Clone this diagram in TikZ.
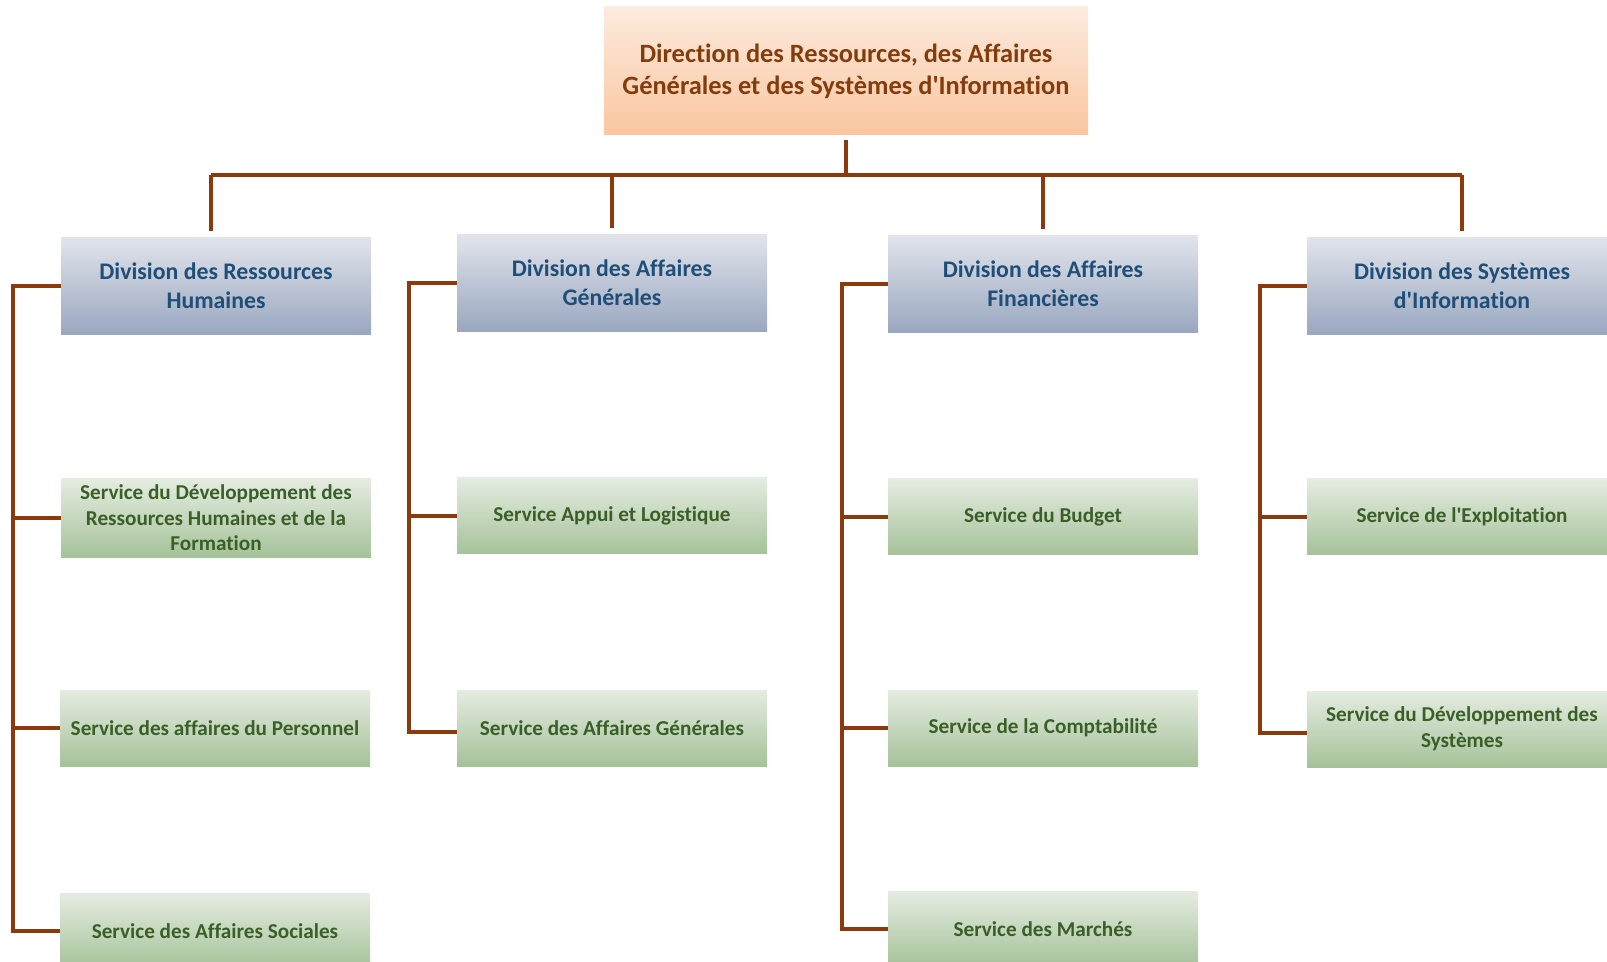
\documentclass[tikz,border=0pt]{standalone}
\usepackage{fontspec}
\setmainfont{Carlito}[Ligatures=NoCommon]
\definecolor{linkbrown}{HTML}{8B3A0E}
\definecolor{dirtop}{HTML}{FDEBDE}
\definecolor{dirbot}{HTML}{FAC6A0}
\definecolor{dirtext}{HTML}{843C0C}
\definecolor{divtop}{HTML}{E1E4EB}
\definecolor{divbot}{HTML}{99A7BF}
\definecolor{divtext}{HTML}{1F4E79}
\definecolor{srvtop}{HTML}{E5ECE1}
\definecolor{srvbot}{HTML}{A5C299}
\definecolor{srvtext}{HTML}{3A5F27}
\begin{document}
\begin{tikzpicture}[x=0.5pt, y=-0.5pt,
    link/.style={draw=linkbrown, line width=2pt},
    dirbox/.style={top color=dirtop, bottom color=dirbot, minimum width=242pt, minimum height=64pt,
        align=center, text=dirtext, font=\bfseries\fontsize{13.2}{16}\selectfont},
    divbox/.style={top color=divtop, bottom color=divbot, minimum width=155pt, minimum height=48.5pt,
        align=center, text=divtext, font=\bfseries\fontsize{11.9}{14.3}\selectfont},
    srvbox/.style={top color=srvtop, bottom color=srvbot, minimum width=155pt, minimum height=38pt,
        align=center, text=srvtext, font=\bfseries\fontsize{10.6}{12.8}\selectfont}]
    \useasboundingbox (0,0) rectangle (1607,962);
    \clip (0,0) rectangle (1607,962);

    % Direction
    \node[dirbox] (dir) at (846,71) {Direction des Ressources, des Affaires\\Générales et des Systèmes d\textquotesingle Information};

    % Divisions
    \node[divbox] (div1) at (216,286) {Division des Ressources\\Humaines};
    \node[divbox] (div2) at (612,283) {Division des Affaires\\Générales};
    \node[divbox] (div3) at (1043,284) {Division des Affaires\\Financières};
    \node[divbox] (div4) at (1462,286) {Division des Systèmes\\d\textquotesingle Information};

    % Services
    \node[srvbox] (srv11) at (216,518) {Service du Développement des\\Ressources Humaines et de la\\Formation};
    \node[srvbox] (srv12) at (215,728) {Service des affaires du Personnel};
    \node[srvbox] (srv13) at (215,931) {Service des Affaires Sociales};
    \node[srvbox] (srv21) at (612,516) {Service Appui et Logistique};
    \node[srvbox] (srv22) at (612,728) {Service des Affaires Générales};
    \node[srvbox] (srv31) at (1043,517) {Service du Budget};
    \node[srvbox] (srv32) at (1043,728) {Service de la Comptabilité};
    \node[srvbox] (srv33) at (1043,929) {Service des Marchés};
    \node[srvbox] (srv41) at (1462,517) {Service de l\textquotesingle Exploitation};
    \node[srvbox] (srv42) at (1462,729) {Service du Développement des\\Systèmes};

    % Connectors from the direction
    \coordinate (bar) at (846,175);
    \draw[link] ([yshift=-2.5pt]dir.south) -- (dir.south |- bar);
    \draw[link] ([xshift=-2.5pt]div1.north |- bar) -- (div4.north |- bar);
    \foreach \d in {div2,div3,div4}
        \draw[link] (\d.north |- bar) -- ([yshift=3pt]\d.north);
    \draw[link] ([xshift=-2.5pt]div1.north |- bar) -- ([xshift=-2.5pt,yshift=3pt]div1.north);

    % Connectors to the services
    \draw[link] (div1.west) -- ++(-48,0) |- (srv13.west);
    \draw[link] (div2.west) -- ++(-48,0) |- ([yshift=-2pt]srv22.west);
    \draw[link] (div3.west) -- ++(-46,0) |- (srv33.west);
    \draw[link] (div4.west) -- ++(-47,0) |- ([yshift=-2pt]srv42.west);
    \foreach \s/\dx in {srv11/48,srv12/48,srv21/48,srv31/46,srv32/46,srv41/47}
        \draw[link] (\s.west) -- ++(-\dx,0);
\end{tikzpicture}
\end{document}
